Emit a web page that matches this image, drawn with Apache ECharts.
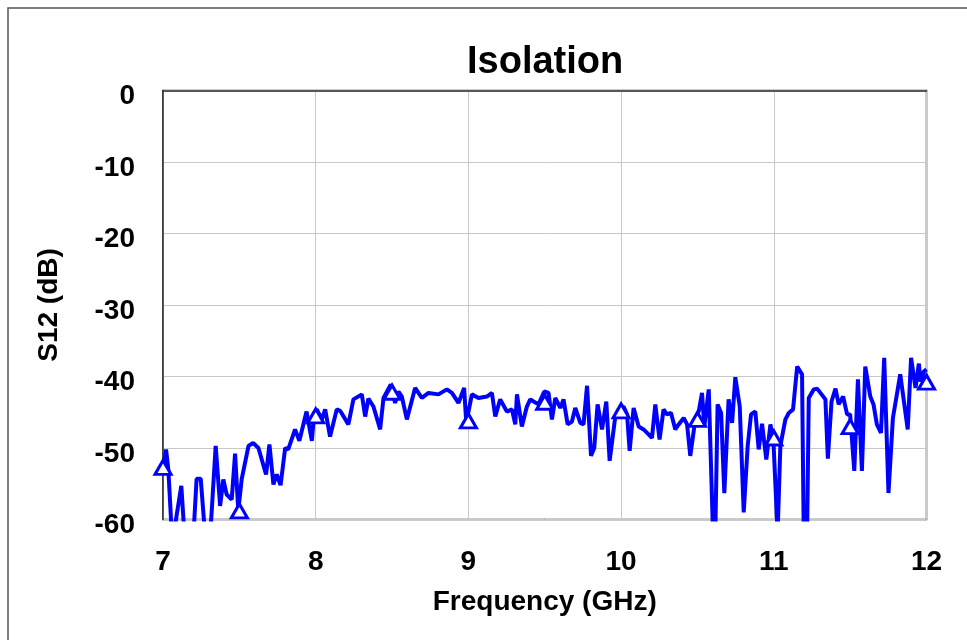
<!DOCTYPE html>
<html>
<head>
<meta charset="utf-8">
<title>Isolation</title>
<script src="https://cdn.jsdelivr.net/npm/echarts@6/dist/echarts.min.js"></script>
<style>
    html, body{
        margin:0;
        padding:0;
        background:#fff;
    }
    #myChart{
        width:967px;
        height:640px;
    }
</style>
</head>
<body>
<div id="myChart"></div>
<script>
    // S12 trace (GHz / dB)
    var freq = [
        7.005, 7.02, 7.035, 7.055, 7.07, 7.12, 7.14, 7.20, 7.22, 7.247,
        7.275, 7.31, 7.345, 7.374, 7.395, 7.417, 7.45, 7.472, 7.493, 7.515,
        7.56, 7.59, 7.625, 7.675, 7.697, 7.723, 7.745, 7.77, 7.80, 7.82,
        7.865, 7.893, 7.94, 7.975, 7.99, 8.007, 8.018, 8.04, 8.062, 8.094,
        8.138, 8.16, 8.214, 8.247, 8.302, 8.324, 8.345, 8.378, 8.422, 8.444,
        8.492, 8.52, 8.542, 8.564, 8.597, 8.651, 8.695, 8.739, 8.804, 8.859,
        8.892, 8.935, 8.972, 8.986, 9.023, 9.066, 9.121, 9.154, 9.176, 9.208,
        9.252, 9.285, 9.307, 9.318, 9.35, 9.383, 9.405, 9.427, 9.459, 9.497,
        9.525, 9.547, 9.569, 9.602, 9.623, 9.65, 9.678, 9.70, 9.733, 9.754,
        9.777, 9.803, 9.824, 9.846, 9.875, 9.903, 9.925, 9.962, 9.984, 10.016,
        10.039, 10.056, 10.082, 10.115, 10.147, 10.18, 10.202, 10.224, 10.252, 10.278,
        10.30, 10.327, 10.355, 10.377, 10.41, 10.432, 10.453, 10.486, 10.508, 10.53,
        10.545, 10.574, 10.602, 10.617, 10.632, 10.655, 10.676, 10.704, 10.727, 10.748,
        10.777, 10.803, 10.829, 10.851, 10.879, 10.901, 10.923, 10.951, 10.978, 10.999,
        11.025, 11.043, 11.076, 11.098, 11.126, 11.153, 11.185, 11.196, 11.218, 11.229,
        11.262, 11.284, 11.338, 11.354, 11.378, 11.404, 11.425, 11.454, 11.48, 11.50,
        11.527, 11.551, 11.577, 11.599, 11.632, 11.653, 11.675, 11.702, 11.723, 11.751,
        11.78, 11.828, 11.877, 11.899, 11.928, 11.95, 11.961, 11.983, 12.0
    ];
    var s12 = [
        -52.5, -50.2, -53.0, -61, -62, -55.3, -62, -62, -54.3, -54.3,
        -62, -62, -49.7, -58.1, -54.4, -56.5, -57.2, -50.8, -58.8, -54.4,
        -49.7, -49.3, -50.0, -53.7, -49.5, -55.1, -53.7, -55.2, -50.0, -50.2,
        -47.4, -49.0, -44.9, -49.0, -45.1, -44.6, -44.5, -46.0, -44.6, -48.4,
        -44.6, -44.8, -46.7, -43.2, -42.5, -45.6, -43.1, -44.2, -47.4, -43.0,
        -41.1, -43.7, -42.1, -42.8, -46.0, -41.6, -43.0, -42.3, -42.5, -41.8,
        -42.3, -43.7, -41.6, -46.5, -42.5, -43.0, -42.8, -42.3, -45.6, -43.2,
        -44.9, -44.6, -46.7, -42.5, -47.0, -44.2, -43.2, -43.5, -43.9, -42.1,
        -42.3, -46.0, -43.0, -44.4, -43.2, -46.7, -46.3, -44.4, -46.5, -46.7,
        -41.3, -51.1, -50.0, -43.9, -47.4, -43.5, -51.8, -45.6, -44.6, -44.2,
        -45.3, -50.4, -44.4, -47.0, -47.4, -48.1, -48.6, -43.9, -48.8, -44.6,
        -45.3, -45.1, -47.4, -46.7, -45.8, -46.7, -51.1, -46.0, -44.9, -42.3,
        -47.0, -41.8, -62, -62, -43.9, -45.1, -56.3, -43.2, -46.5, -40.1,
        -44.2, -59.0, -49.7, -45.3, -44.9, -50.2, -46.6, -51.6, -46.7, -49.7,
        -62, -49.7, -46.0, -45.1, -44.6, -38.6, -39.7, -62, -62, -43.0,
        -41.8, -41.7, -43.2, -51.5, -43.5, -41.7, -43.9, -42.8, -45.3, -45.3,
        -53.2, -40.4, -53.2, -38.6, -42.8, -43.9, -46.7, -47.9, -37.4, -56.3,
        -45.8, -39.7, -47.4, -37.4, -41.6, -38.2, -40.7, -39.3, -39.0
    ];
    // triangle markers every 0.5 GHz
    var markerFreq = [7.0, 7.5, 8.0, 8.5, 9.0, 9.5, 10.0, 10.5, 11.0, 11.5, 12.0];
    var markerS12 = [-52.7, -58.8, -45.5, -42.2, -46.2, -43.6, -44.8, -46.0, -48.6, -47.0, -40.8];

    var lineData = freq.map(function (f, i) { return [f, s12[i]]; });
    var markerData = markerFreq.map(function (f, i) { return [f, markerS12[i]]; });

    var font = '"Liberation Sans", Arial, sans-serif';

    var myChart = echarts.init(document.getElementById('myChart'), null, {renderer: 'canvas'});
    var options = {
        backgroundColor: '#fff',
        animation: false,
        title: {
            text: 'Isolation',
            left: 462,
            top: 39,
            textStyle: {fontFamily: font, fontSize: 38, fontWeight: 'bold', color: '#000'}
        },
        graphic: [
            {
                type: 'rect',
                shape: {x: 8, y: 8, width: 1000, height: 700},
                style: {fill: 'none', stroke: '#555', lineWidth: 1.5},
                silent: true
            }
        ],
        grid: {
            left: 163, top: 90.5, right: 40.5, bottom: 120.5,
            show: true,
            borderColor: '#333',
            borderWidth: 1.5,
            containLabel: false
        },
        xAxis: {
            type: 'value',
            min: 7, max: 12, interval: 1,
            name: 'Frequency (GHz)',
            nameLocation: 'middle',
            nameGap: 69,
            nameTextStyle: {fontFamily: font, fontSize: 28, fontWeight: 'bold', color: '#000'},
            axisLine: {show: true, lineStyle: {color: '#333', width: 1.5}},
            axisTick: {show: false},
            axisLabel: {fontFamily: font, fontSize: 28, fontWeight: 'bold', color: '#000', margin: 29},
            splitLine: {show: true, lineStyle: {color: '#c8c8c8', width: 1}}
        },
        yAxis: {
            type: 'value',
            min: -60, max: 0, interval: 10,
            name: 'S12 (dB)',
            nameLocation: 'middle',
            nameGap: 100,
            nameTextStyle: {fontFamily: font, fontSize: 28, fontWeight: 'bold', color: '#000'},
            axisLine: {show: true, lineStyle: {color: '#333', width: 1.5}},
            axisTick: {show: false},
            axisLabel: {fontFamily: font, fontSize: 28, fontWeight: 'bold', color: '#000', margin: 28,
                        verticalAlign: 'top', lineHeight: 12},
            splitLine: {show: true, lineStyle: {color: '#c8c8c8', width: 1}}
        },
        series: [
            {
                name: 'S12',
                type: 'line',
                data: lineData,
                showSymbol: false,
                clip: true,
                lineStyle: {color: '#0000ff', width: 4},
                z: 2
            },
            {
                name: 'marker',
                type: 'scatter',
                data: markerData,
                symbol: 'triangle',
                symbolSize: [16, 14],
                clip: false,
                itemStyle: {color: '#fff', borderColor: '#0000ff', borderWidth: 3, opacity: 1},
                z: 3
            }
        ]
    };
    myChart.setOption(options);
</script>
</body>
</html>
